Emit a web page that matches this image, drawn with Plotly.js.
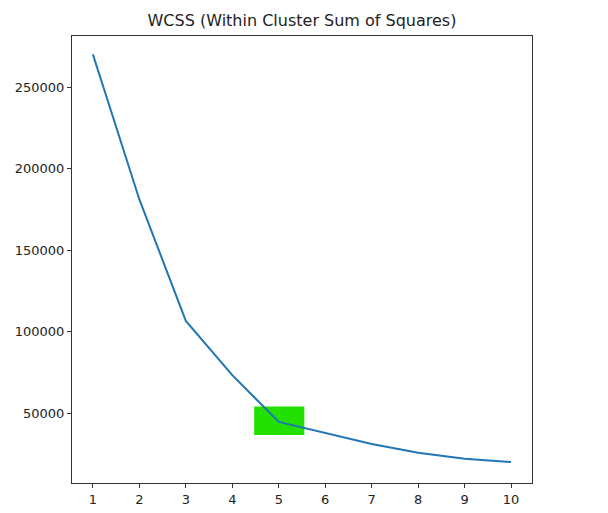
<!DOCTYPE html>
<html>
<head>
<meta charset="utf-8">
<script src="https://cdn.plot.ly/plotly-3.0.1.min.js"></script>
<style>html,body{margin:0;padding:0;background:#fff;}#chart{width:608px;height:513px;}</style>
</head>
<body>
<div id="chart"></div>
<script>
const clusters = [1, 2, 3, 4, 5, 6, 7, 8, 9, 10];
const wcss = [270000, 181000, 106500, 73200, 44500, 37700, 31000, 25600, 21900, 19900];
const tickLabels = ["1","2","3","4","5","6","7","8","9","10"];
const highlightX = [4.47, 5.55];
const highlightY = [36500, 54000];

const trace = {
  x: clusters, y: wcss, type: 'scatter', mode: 'lines',
  line: {color: '#1f77b4', width: 2}, hoverinfo: 'x+y'
};

const layout = {
  width: 608, height: 513,
  margin: {l: 72, r: 76, t: 36, b: 30},
  paper_bgcolor: '#fff', plot_bgcolor: '#fff',
  showlegend: false,
  font: {family: 'DejaVu Sans', size: 13, color: '#222'},
  title: {text: 'WCSS (Within Cluster Sum of Squares)', x: 0.5, xref: 'paper', y: 1 - 20/513, yref: 'container', yanchor: 'middle', xanchor: 'center', font: {family: 'DejaVu Sans', size: 16, color: '#222'}},
  xaxis: {range: [0.55, 10.45], tickmode: 'array', tickvals: clusters, ticktext: tickLabels, ticks: 'outside', ticklen: 4, tickcolor: '#333', showline: true, linecolor: '#333', linewidth: 1, mirror: true, showgrid: false, zeroline: false, fixedrange: true},
  yaxis: {range: [7055, 281288], tickmode: 'linear', tick0: 0, dtick: 50000, tickformat: 'd', ticks: 'outside', ticklen: 4, tickcolor: '#333', showline: true, linecolor: '#333', linewidth: 1, mirror: true, showgrid: false, zeroline: false, fixedrange: true},
  shapes: [{type: 'rect', xref: 'x', yref: 'y', x0: highlightX[0], x1: highlightX[1], y0: highlightY[0], y1: highlightY[1], fillcolor: '#22e000', line: {width: 0}, layer: 'below'}]
};

Plotly.newPlot('chart', [trace], layout, {displayModeBar: false, staticPlot: true});
</script>
</body>
</html>
